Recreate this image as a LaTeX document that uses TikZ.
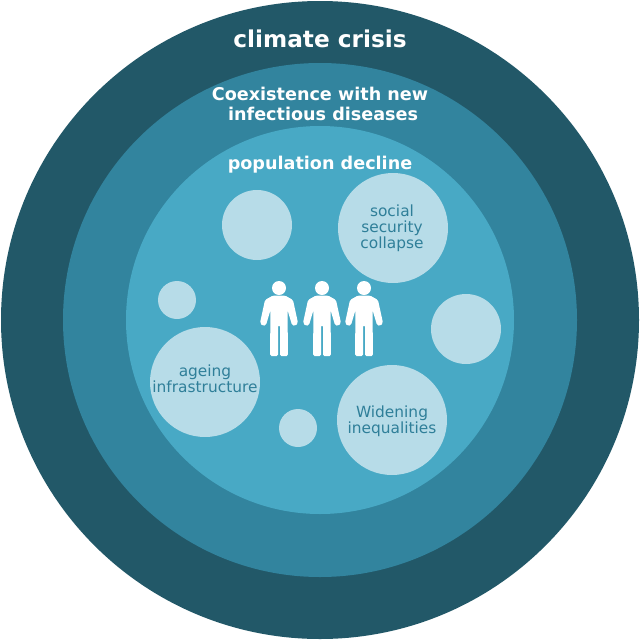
\documentclass[tikz,border=0pt]{standalone}
\usepackage{fontspec}
\setmainfont{DejaVu Sans}
\definecolor{ringouter}{HTML}{225868}
\definecolor{ringmiddle}{HTML}{32849E}
\definecolor{ringinner}{HTML}{48A9C5}
\definecolor{bubble}{HTML}{B7DCE8}
\definecolor{bubbletext}{HTML}{2F7F99}
\tikzset{
  ringlabel/.style={text=white, font=\bfseries\fontsize{#1}{20}\selectfont, align=center, inner sep=0.75pt},
  bubblelabel/.style={text=bubbletext, font=\fontsize{15.4}{16}\selectfont, align=center, inner sep=0.75pt},
  person/.pic={
    \fill[white] (0, -33) circle (7);
    \fill[white, rounded corners=1.5pt] (-6, -25.5) -- (-14, -21) -- (-19, 2) -- (-16, 5) -- (-13, 4) -- (-8.5, -11) -- (-9, 35) -- (-1, 35) -- (-1, 4) -- (1, 4) -- (1, 35) -- (9, 35) -- (8.5, -11) -- (13, 4) -- (16, 5) -- (19, 2) -- (14, -21) -- (6, -25.5) -- cycle;
  }
}
\begin{document}
\begin{tikzpicture}[x=1pt, y=-1pt]
\useasboundingbox (0, 0) rectangle (640, 640);
\fill[white] (0, 0) rectangle (640, 640);
%Rings
\fill[ringouter] (320, 320) circle (319);
\fill[ringmiddle] (320, 320) circle (257);
\fill[ringinner] (320, 320) circle (194);
%Bubbles
\fill[bubble] (257, 225) circle (35);
\fill[bubble] (393, 228) circle (55);
\fill[bubble] (177, 300) circle (19);
\fill[bubble] (466, 329) circle (35);
\fill[bubble] (205, 382) circle (55);
\fill[bubble] (298, 428) circle (19);
\fill[bubble] (392, 420) circle (55);
%People
\foreach \px in {279, 322, 364} {
  \pic at (\px, 321) {person};
}
%Text
\node[ringlabel=23.2] (climate) at (320, 39) {climate crisis};
\node[ringlabel=17.6] (coexist) at (320, 104) {Coexistence with new\\\ infectious diseases};
\node[ringlabel=17.6] (decline) at (320, 164.5) {population decline};
\node[bubblelabel] (security) at (392, 228) {social\\security\\collapse};
\node[bubblelabel] (ageing) at (205, 379) {ageing\\infrastructure};
\node[bubblelabel] (widening) at (392, 421) {Widening\\inequalities};
\end{tikzpicture}
\end{document}
